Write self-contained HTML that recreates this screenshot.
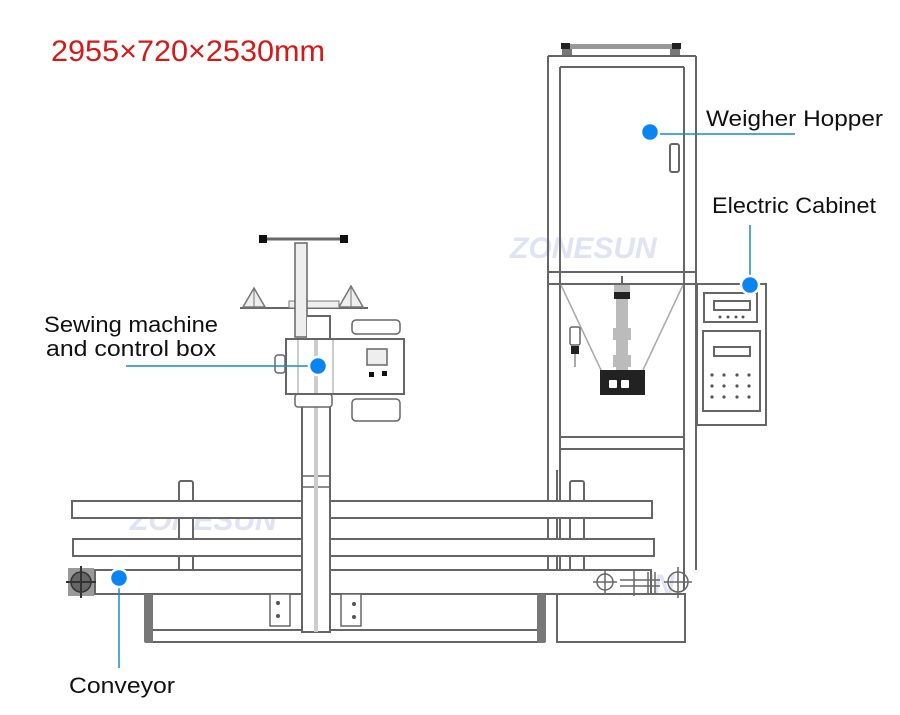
<!DOCTYPE html>
<html><head><meta charset="utf-8"><style>
html,body{margin:0;padding:0;background:#fff;}
svg{display:block;font-family:"Liberation Sans",sans-serif;}
</style></head><body>
<svg width="900" height="715" viewBox="0 0 900 715" xmlns="http://www.w3.org/2000/svg">
<rect width="900" height="715" fill="#fff"/>
<text x="51" y="61" font-size="30" fill="#d51818" textLength="274" lengthAdjust="spacingAndGlyphs">2955×720×2530mm</text>

<!-- watermarks -->
<g fill="#dfe3f3" font-size="30" font-style="italic" font-weight="bold">
<text x="510" y="258">ZONESUN</text>
<text x="130" y="530">ZONESUN</text>
<text x="528" y="595">ZONESUN</text>
</g>

<g fill="none" stroke="#666" stroke-width="2">
<!-- hopper -->
<rect x="562" y="44" width="118" height="5" fill="#999" stroke="none"/>
<rect x="561" y="43" width="9" height="6" fill="#222" stroke="none"/>
<rect x="672" y="43" width="9" height="6" fill="#222" stroke="none"/>
<rect x="562" y="49" width="10" height="7" fill="#777" stroke="none"/>
<rect x="670" y="49" width="10" height="7" fill="#777" stroke="none"/>
<line x1="548" y1="56" x2="696" y2="56"/>
<line x1="560" y1="67" x2="684" y2="67"/>
<line x1="548" y1="56" x2="548" y2="575"/>
<line x1="696" y1="56" x2="696" y2="570"/>
<line x1="560" y1="67" x2="560" y2="590"/>
<line x1="684" y1="67" x2="684" y2="590"/>
<rect x="670" y="144" width="9" height="28" rx="2"/>
<line x1="548" y1="272" x2="696" y2="272"/>
<line x1="548" y1="284" x2="696" y2="284"/>
<line x1="560" y1="437" x2="684" y2="437"/>
<line x1="560" y1="449" x2="684" y2="449"/>
<rect x="557" y="594" width="128" height="48"/>
</g>
<g stroke="#aaa" stroke-width="1.5">
<line x1="561" y1="285" x2="601" y2="370"/>
<line x1="683" y1="285" x2="643" y2="370"/>
</g>
<line x1="622" y1="276" x2="622" y2="285" stroke="#666" stroke-width="2"/>
<rect x="614" y="285" width="16" height="8" fill="#bbb"/>
<rect x="614" y="292" width="16" height="7" fill="#222"/>
<rect x="616" y="299" width="12" height="71" fill="#bbb"/>
<rect x="613" y="328" width="18" height="12" fill="#bbb"/>
<rect x="613" y="355" width="18" height="12" fill="#bbb"/>
<rect x="600" y="370" width="45" height="25" fill="#222"/>
<rect x="609" y="380" width="8" height="8" fill="#fff" rx="1"/>
<rect x="621" y="380" width="8" height="8" fill="#fff" rx="1"/>
<rect x="570" y="327" width="10" height="18" fill="#fff" stroke="#666" stroke-width="1.5" rx="2"/>
<rect x="571" y="346" width="8" height="8" fill="#222"/>
<line x1="575" y1="354" x2="575" y2="367" stroke="#aaa" stroke-width="2"/>

<!-- electric cabinet -->
<g fill="#fff" stroke="#666" stroke-width="2">
<rect x="697" y="284" width="69" height="141"/>
<rect x="704" y="293" width="53" height="29"/>
<rect x="714" y="301" width="36" height="9"/>
<rect x="703" y="331" width="57" height="80"/>
<rect x="714" y="347" width="36" height="9"/>
</g>
<g fill="#555">
<circle cx="720" cy="317" r="1.5"/><circle cx="728" cy="317" r="1.5"/><circle cx="736" cy="317" r="1.5"/><circle cx="743" cy="317" r="1.5"/>
<circle cx="712" cy="375" r="1.6"/><circle cx="724" cy="375" r="1.6"/><circle cx="737" cy="375" r="1.6"/><circle cx="749" cy="375" r="1.6"/>
<circle cx="712" cy="386" r="1.6"/><circle cx="724" cy="386" r="1.6"/><circle cx="737" cy="386" r="1.6"/><circle cx="749" cy="386" r="1.6"/>
<circle cx="712" cy="397" r="1.6"/><circle cx="724" cy="397" r="1.6"/><circle cx="737" cy="397" r="1.6"/><circle cx="749" cy="397" r="1.6"/>
</g>

<!-- conveyor -->
<g fill="#fff" stroke="#666" stroke-width="2">
<rect x="179" y="481" width="14" height="90" rx="2"/>
<rect x="570" y="481" width="14" height="90" rx="2"/>
<line x1="557" y1="470" x2="557" y2="570"/>
<rect x="72" y="501" width="580" height="17"/>
<rect x="73" y="539" width="581" height="17"/>
<rect x="95" y="570" width="556" height="24"/>
<rect x="152" y="594" width="388" height="48" fill="none"/>
<line x1="152" y1="630" x2="540" y2="630"/>
</g>
<rect x="144" y="594" width="9" height="49" fill="#777" rx="2"/>
<rect x="537" y="594" width="9" height="49" fill="#777" rx="2"/>
<rect x="68" y="568" width="26" height="28" fill="#999"/>
<circle cx="81" cy="582" r="10" fill="#666" stroke="#333" stroke-width="1.5"/>
<line x1="66" y1="582" x2="96" y2="582" stroke="#333" stroke-width="2"/>
<line x1="81" y1="566" x2="81" y2="598" stroke="#333" stroke-width="2"/>
<g fill="none" stroke="#666" stroke-width="1.5">
<circle cx="605" cy="582" r="8"/><line x1="593" y1="582" x2="617" y2="582"/><line x1="605" y1="571" x2="605" y2="593"/>
<line x1="620" y1="580" x2="660" y2="580"/><line x1="620" y1="586" x2="660" y2="586"/>
<line x1="634" y1="570" x2="634" y2="596"/><line x1="648" y1="572" x2="648" y2="594"/><line x1="655" y1="572" x2="655" y2="594"/>
<circle cx="678" cy="582" r="10"/><line x1="664" y1="582" x2="692" y2="582"/><line x1="678" y1="567" x2="678" y2="598"/>
</g>
<!-- brackets on column -->
<g fill="#fff" stroke="#666" stroke-width="1.5">
<rect x="270" y="594" width="20" height="32"/>
<rect x="341" y="594" width="20" height="32"/>
</g>
<g fill="#555"><circle cx="278" cy="603" r="2"/><circle cx="278" cy="616" r="2"/><circle cx="354" cy="604" r="2"/><circle cx="354" cy="617" r="2"/></g>

<!-- column and sewing head -->
<rect x="302" y="400" width="28" height="232" fill="#fff" stroke="#666" stroke-width="2"/>
<line x1="302" y1="476" x2="330" y2="476" stroke="#666" stroke-width="1.5"/>
<line x1="302" y1="487" x2="330" y2="487" stroke="#666" stroke-width="1.5"/>
<line x1="316" y1="318" x2="316" y2="632" stroke="#ccc" stroke-width="4"/>
<line x1="240" y1="308" x2="368" y2="308" stroke="#666" stroke-width="2"/>
<path d="M243 307 L254 288 L265 307 Z M339 307 L351 286 L363 307 Z" fill="#eee" stroke="#777" stroke-width="1.5"/>
<line x1="254" y1="288" x2="254" y2="307" stroke="#777" stroke-width="1"/>
<line x1="351" y1="286" x2="351" y2="307" stroke="#777" stroke-width="1"/>
<rect x="289" y="301" width="50" height="7" fill="#eee" stroke="#777" stroke-width="1"/>
<line x1="262" y1="239" x2="345" y2="239" stroke="#666" stroke-width="3"/>
<rect x="259" y="235" width="8" height="8" fill="#111"/>
<rect x="340" y="235" width="8" height="8" fill="#111"/>
<rect x="295" y="243" width="12" height="94" fill="#eee" stroke="#666" stroke-width="1.5"/>
<path d="M307 316 L330 316 L330 339 L307 339" fill="#fff" stroke="#666" stroke-width="2"/>
<rect x="352" y="320" width="48" height="14" rx="4" fill="#fff" stroke="#666" stroke-width="1.5"/>
<rect x="352" y="399" width="48" height="22" rx="4" fill="#fff" stroke="#666" stroke-width="1.5"/>
<rect x="295" y="394" width="37" height="13" rx="3" fill="#fff" stroke="#666" stroke-width="1.5"/>
<rect x="286" y="339" width="118" height="55" fill="#fff" stroke="#666" stroke-width="2"/>
<line x1="298" y1="340" x2="298" y2="393" stroke="#ccc" stroke-width="2"/>
<line x1="316" y1="340" x2="316" y2="393" stroke="#ccc" stroke-width="4"/>
<line x1="333" y1="340" x2="333" y2="393" stroke="#ccc" stroke-width="2"/>
<rect x="275" y="355" width="10" height="18" rx="3" fill="#fff" stroke="#666" stroke-width="1.5"/>
<rect x="367" y="349" width="20" height="16" fill="#eee" stroke="#666" stroke-width="1.5"/>
<rect x="369" y="372" width="5" height="5" fill="#111"/>
<rect x="382" y="371" width="5" height="5" fill="#111"/>

<!-- callouts -->
<g stroke="#1c8bc0" stroke-width="1.5">
<line x1="650" y1="134" x2="795" y2="134"/>
<line x1="750" y1="225" x2="750" y2="285"/>
<line x1="126" y1="366" x2="318" y2="366"/>
<line x1="119" y1="578" x2="119" y2="668"/>
</g>
<g fill="#0a84f0" stroke="#fff" stroke-width="2.5">
<circle cx="650" cy="132" r="9"/>
<circle cx="750" cy="285" r="9"/>
<circle cx="318" cy="366" r="9"/>
<circle cx="119" cy="578" r="9"/>
</g>
<g fill="#111" font-size="22">
<text x="706" y="126" textLength="177" lengthAdjust="spacingAndGlyphs">Weigher Hopper</text>
<text x="712" y="213" textLength="164" lengthAdjust="spacingAndGlyphs">Electric Cabinet</text>
<text x="44" y="332" textLength="174" lengthAdjust="spacingAndGlyphs">Sewing machine</text>
<text x="46" y="356" textLength="170" lengthAdjust="spacingAndGlyphs">and control box</text>
<text x="69" y="693" textLength="106" lengthAdjust="spacingAndGlyphs">Conveyor</text>
</g>
</svg>
</body></html>
